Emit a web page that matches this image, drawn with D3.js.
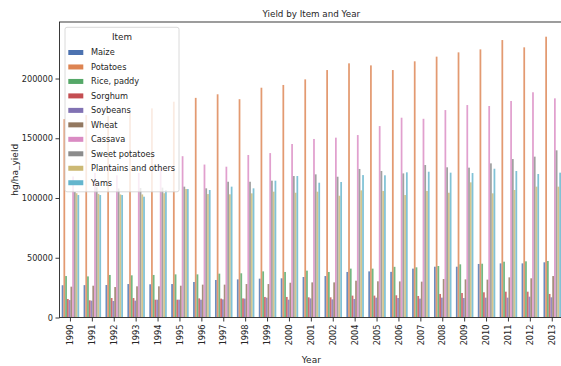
<!DOCTYPE html>
<html><head><meta charset="utf-8">
<script src="https://cdn.jsdelivr.net/npm/d3@7"></script>
<style>
body{margin:0;background:#fff;}
svg{display:block;font-family:"DejaVu Sans",sans-serif;}
</style></head>
<body><svg id="c" width="561" height="366"></svg>
<script>
const years = ["1990","1991","1992","1993","1994","1995","1996","1997","1998","1999","2000","2001","2002","2004","2005","2006","2007","2008","2009","2010","2011","2012","2013"];
const items = ["Maize","Potatoes","Rice, paddy","Sorghum","Soybeans","Wheat","Cassava","Sweet potatoes","Plantains and others","Yams"];
const colors = ["#4c72b0","#dd8452","#55a868","#c44e52","#8172b3","#937860","#da8bc3","#8c8c8c","#ccb974","#64b5cd"];
const maize = [27000,27100,27200,28000,27800,28000,29700,31400,31900,32500,32800,33900,34700,38100,38600,38200,40900,42500,42500,44800,45300,45300,46200];
const potatoes = [166000,169400,168500,173600,175000,180600,183800,186800,182700,192300,194600,199300,207100,212700,211000,207100,214400,218300,221900,224400,232200,226100,235000];
const rice = [34700,34400,35600,35300,35600,36100,36100,36700,37000,38600,38100,39200,38100,40900,40900,42400,42000,43100,44500,45000,46700,47000,47300];
const sorghum = [15500,14400,16300,16300,14900,14900,16000,15800,16000,17200,17200,16900,16900,18300,18300,18600,18000,19700,20500,21100,21600,21600,19700];
const soybeans = [14600,14100,13800,14100,14900,14900,14900,15200,15800,16600,14900,16000,15200,15500,16600,16300,15800,16600,16300,16600,16600,17400,16900];
const wheat = [25800,26600,25500,26100,26100,26600,27500,27500,28000,28000,29100,29400,29400,30800,30300,30200,30000,32200,31900,31700,33600,32800,34700];
const cassava = [118000,121000,119000,121000,125000,135000,128000,126200,136000,137600,145200,149400,150500,152700,160200,167200,166300,173600,177800,177000,181200,188500,183400];
const sweetPotatoes = [105000,109000,108000,108400,108700,109500,108100,113600,113600,114500,118400,119800,117800,124300,122600,120600,127600,125700,125400,129000,132600,134600,139900];
const plantains = [104000,103500,103000,103000,104000,107500,103300,103100,103900,105300,104400,105300,101900,106400,105900,102500,105900,104400,113100,103900,106700,109500,109500];
const yams = [102500,102500,102500,101100,106700,107500,106700,109500,108100,114500,118400,112800,113400,119200,119000,121500,122000,121200,120900,124500,122600,120100,121200];
const series = [maize,potatoes,rice,sorghum,soybeans,wheat,cassava,sweetPotatoes,plantains,yams];
const yTicks = [0,50000,100000,150000,200000];

const svg = d3.select("#c");
const L = 59.5, R = 563.2, T = 22, B = 317.5;
const ink = "#262626";
const x = d3.scaleBand().domain(years).range([L,R]).padding(0);
const xi = d3.scaleBand().domain(items).range([0.1*x.bandwidth(),0.9*x.bandwidth()]).padding(0);
const y = d3.scaleLinear().domain([0,247300]).range([B,T]);

const data = [];
years.forEach((yr,i)=>items.forEach((it,j)=>data.push({yr,it,j,v:series[j][i]})));
svg.append("g").selectAll("rect").data(data).join("rect")
  .attr("x",d=>x(d.yr)+xi(d.it)).attr("width",xi.bandwidth())
  .attr("y",d=>y(d.v)).attr("height",d=>B-y(d.v))
  .attr("fill",d=>colors[d.j]).attr("fill-opacity",0.82);

// frame
svg.append("rect").attr("x",L).attr("y",T).attr("width",R-L).attr("height",B-T)
  .attr("fill","none").attr("stroke",ink).attr("stroke-width",0.9);

const ya = svg.append("g").attr("transform",`translate(${L},0)`)
  .call(d3.axisLeft(y).tickValues(yTicks).tickFormat(d3.format("d")).tickSize(4).tickPadding(2.5));
const xa = svg.append("g").attr("transform",`translate(0,${B})`)
  .call(d3.axisBottom(x).tickSize(4).tickPadding(3));
[ya,xa].forEach(a=>{a.select(".domain").remove();a.selectAll("line").attr("stroke",ink).attr("stroke-width",0.9);
  a.selectAll("text").attr("fill",ink).style("font-size","8.2px").style("font-family","DejaVu Sans");});
xa.selectAll("text").attr("transform","rotate(-90)").attr("text-anchor","end")
  .attr("x",-7).attr("y",0).attr("dy","0.33em");

svg.append("text").attr("x",(L+R)/2).attr("y",16.7).attr("text-anchor","middle")
  .attr("fill",ink).style("font-size","8.75px").text("Yield by Item and Year");
svg.append("text").attr("x",(L+R)/2).attr("y",363).attr("text-anchor","middle")
  .attr("fill",ink).style("font-size","9px").text("Year");
svg.append("text").attr("transform",`translate(17.5,${(T+B)/2}) rotate(-90)`).attr("text-anchor","middle")
  .attr("fill",ink).style("font-size","9px").text("hg/ha_yield");

// legend
const lg = svg.append("g");
lg.append("rect").attr("x",65).attr("y",27.3).attr("width",114).attr("height",164.5).attr("rx",2)
  .attr("fill","#fff").attr("fill-opacity",0.8).attr("stroke","#d0d0d0").attr("stroke-width",0.8);
lg.append("text").attr("x",122).attr("y",39.8).attr("text-anchor","middle").attr("fill",ink)
  .style("font-size","8.75px").text("Item");
const ent = lg.selectAll("g.e").data(items).join("g").attr("class","e")
  .attr("transform",(d,i)=>`translate(0,${52.5+i*14.47})`);
ent.append("rect").attr("x",68.3).attr("y",-2.5).attr("width",15).attr("height",5).attr("fill",(d,i)=>colors[i]);
ent.append("text").attr("x",91).attr("y",0).attr("dy","0.35em").attr("fill",ink).style("font-size","8.2px").text(d=>d);
</script></body></html>
